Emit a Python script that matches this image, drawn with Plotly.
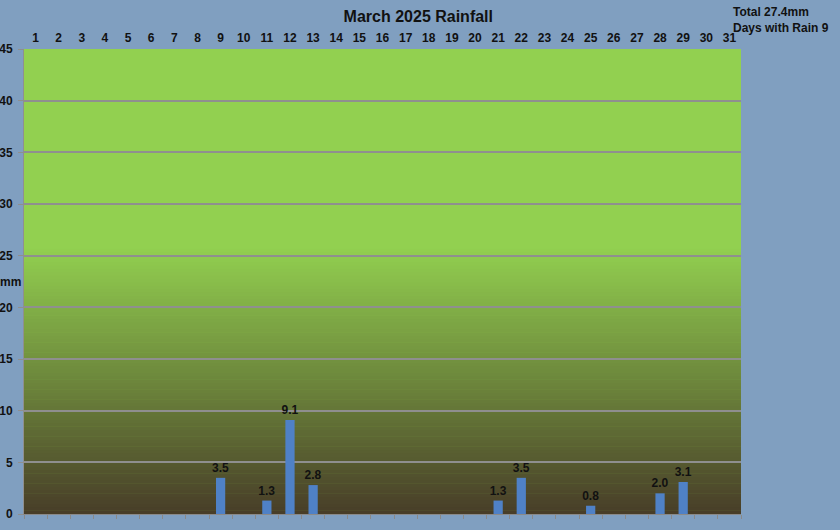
import plotly.graph_objects as go

# === 1. Data ===
days = list(range(1, 32))
rain_mm = [0, 0, 0, 0, 0, 0, 0, 0, 3.5, 0, 1.3, 9.1, 2.8, 0, 0, 0, 0, 0, 0, 0,
           1.3, 3.5, 0, 0, 0.8, 0, 0, 2.0, 3.1, 0, 0]
y_ticks = [0, 5, 10, 15, 20, 25, 30, 35, 40, 45]

total = sum(rain_mm)
wet_days = sum(1 for v in rain_mm if v > 0)
bar_text = [f"<b>{v:.1f}</b>" if v > 0 else "" for v in rain_mm]

FONT = "Liberation Sans"
BG = "#809FC0"

# === 2. Chart ===
fig = go.Figure()
fig.add_trace(go.Bar(
    x=days, y=rain_mm, text=bar_text,
    textposition="outside", cliponaxis=False, constraintext="none",
    textfont=dict(family=FONT, size=12, color="#111111"),
    marker=dict(color="#4F81C6", line=dict(width=0)),
    width=0.4,
))

# gradient background: green on top, dark brown towards 0
top_rgb = (146, 208, 80)
bot_rgb = (72, 62, 40)
n_bands = 80
grad_top = 26
shapes = []
for i in range(n_bands):
    t = i / (n_bands - 1)
    c = tuple(round(bot_rgb[k] + (top_rgb[k] - bot_rgb[k]) * t) for k in range(3))
    shapes.append(dict(
        type="rect", xref="paper", yref="y", layer="below",
        x0=0, x1=1, y0=grad_top * i / n_bands, y1=grad_top * (i + 1) / n_bands + 0.05,
        fillcolor=f"rgb{c}", line=dict(width=0),
    ))

fig.update_layout(
    width=840, height=530,
    margin=dict(l=24, r=99, t=49, b=16),
    paper_bgcolor=BG,
    plot_bgcolor="#92D050",
    showlegend=False,
    shapes=shapes,
    font=dict(family=FONT, size=12, color="#111111"),
    title=dict(text="<b>March 2025 Rainfall</b>", x=0.498, xanchor="center",
               y=0.979, yanchor="top", font=dict(family=FONT, size=16, color="#111111")),
    xaxis=dict(
        side="top", range=[0.5, 31.5], tickmode="array", tickvals=days,
        ticktext=[f"<b>{d}</b>" for d in days], showgrid=False, zeroline=False,
        showline=False, ticks="", ticklabelstandoff=4, automargin=False,
        tickfont=dict(family=FONT, size=12, color="#111111"),
    ),
    xaxis2=dict(
        overlaying="x", side="bottom", range=[0.5, 31.5], tickmode="array",
        tickvals=[d + 0.5 for d in range(0, 32)], showticklabels=False,
        ticks="outside", ticklen=4, tickcolor="#8a8a8a", showline=True,
        linecolor="#8a8a8a", linewidth=1, showgrid=False, zeroline=False,
        automargin=False,
    ),
    yaxis=dict(
        range=[0, 45], tickvals=y_ticks, ticktext=[f"<b>{v}</b>" for v in y_ticks],
        showgrid=True, gridcolor="#8f8f8f", gridwidth=1.5, zeroline=False,
        ticks="outside", ticklen=5, tickcolor="#8f8f8f", ticklabelstandoff=3,
        showline=True, linecolor="#8f8f8f", linewidth=1, automargin=False,
        tickfont=dict(family=FONT, size=12, color="#111111"),
    ),
    annotations=[
        dict(text="<b>mm</b>", xref="paper", yref="y", x=0, y=22.5, xanchor="right",
             xshift=-1, showarrow=False, font=dict(family=FONT, size=12, color="#111111")),
        dict(text=f"<b>Total {total:.1f}mm<br>Days with Rain {wet_days}</b>",
             xref="paper", yref="paper", x=1, y=1, xanchor="left", yanchor="bottom",
             xshift=-10, yshift=12, align="left", showarrow=False,
             font=dict(family=FONT, size=12, color="#111111")),
    ],
)
# dummy trace to activate the bottom axis with boundary ticks
fig.add_trace(go.Scatter(x=[1], y=[0], xaxis="x2", mode="markers",
                         marker=dict(opacity=0), hoverinfo="skip"))

fig.write_html("out.html", config={"displayModeBar": False},
               post_script="document.body.style.margin='0';")
